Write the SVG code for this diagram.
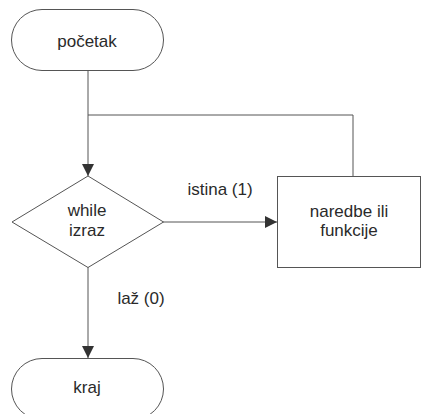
<svg xmlns="http://www.w3.org/2000/svg" width="421" height="414" viewBox="0 0 421 414">
<style>
.shape{fill:#fff;stroke:#555;stroke-width:1}
.edge{fill:none;stroke:#555;stroke-width:1}
text{font-family:"Liberation Sans",Arial,sans-serif;font-size:17px;fill:#2a2a2a;text-anchor:middle}
</style>
<defs>
<marker id="arr" markerWidth="12" markerHeight="12" refX="12" refY="6" orient="auto" markerUnits="userSpaceOnUse">
<path d="M0,0 L12,6 L0,12 Z" fill="#333"/>
</marker>
</defs>
<rect width="421" height="414" fill="#fff"/>
<g id="connectors">
<path class="edge" d="M88,70 V176" marker-end="url(#arr)"/>
<path class="edge" d="M353,176 V115 H88"/>
<path class="edge" d="M163,222 H277" marker-end="url(#arr)"/>
<path class="edge" d="M88,267 V358" marker-end="url(#arr)"/>
<text x="220" y="195">istina (1)</text>
<text x="141" y="304">laž (0)</text>
</g>
<g id="start">
<rect class="shape" x="11.5" y="9.5" width="152" height="61" rx="30.5"/>
<text x="87" y="47">početak</text>
</g>
<g id="cond">
<polygon class="shape" points="88,176 163.5,222 88,267.5 12,222"/>
<text x="87" y="216">while</text>
<text x="87" y="236">izraz</text>
</g>
<g id="body">
<rect class="shape" x="277.5" y="176.5" width="143" height="91"/>
<text x="349" y="217">naredbe ili</text>
<text x="349" y="236">funkcije</text>
</g>
<g id="end">
<rect class="shape" x="11.5" y="358.5" width="152" height="61" rx="30.5"/>
<text x="87" y="393">kraj</text>
</g>
</svg>
